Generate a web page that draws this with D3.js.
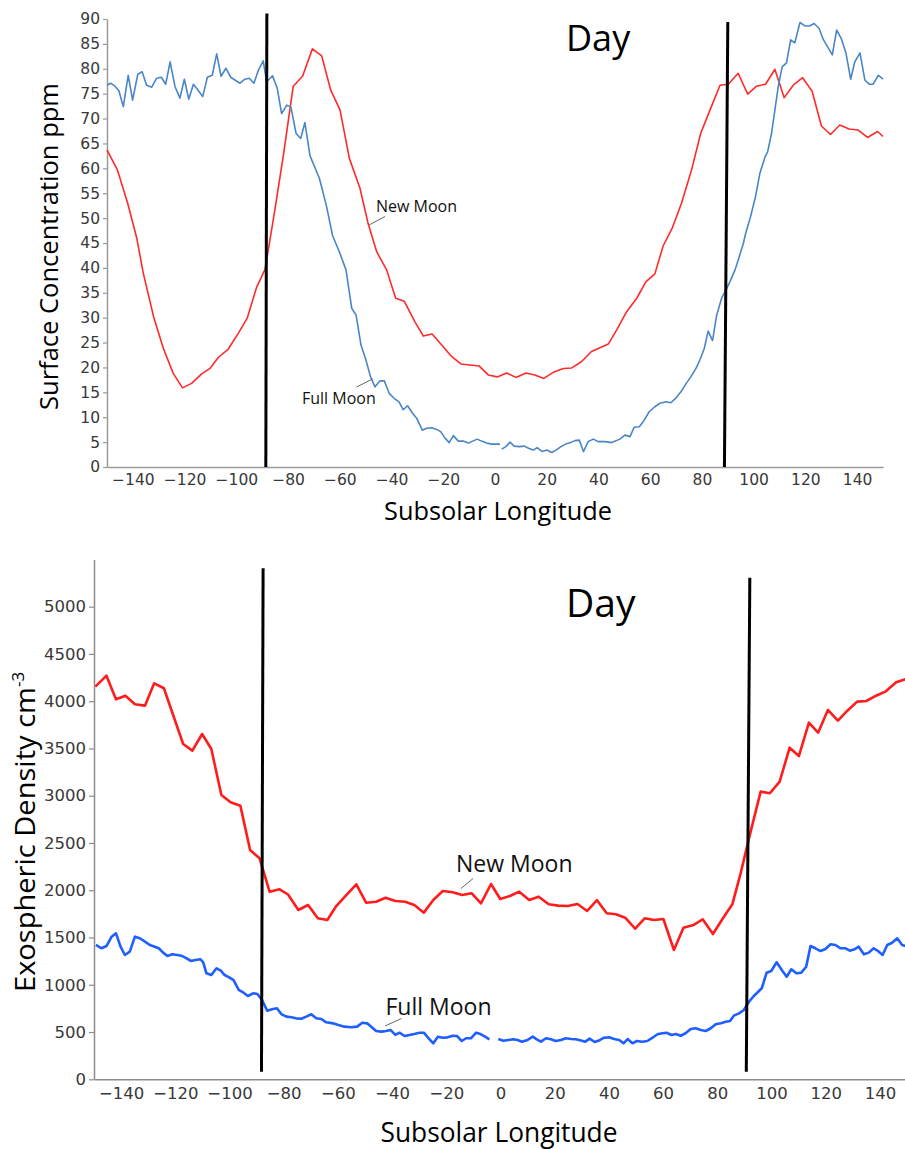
<!DOCTYPE html>
<html>
<head>
<meta charset="utf-8">
<script src="https://cdn.jsdelivr.net/npm/d3@7"></script>
<style>
  html, body { margin: 0; padding: 0; background: #fff; }
  svg { display: block; }
</style>
</head>
<body>
<svg id="chart" width="905" height="1149"></svg>
<script>
// ---------------- DATA ----------------
const xTicks = [-140, -120, -100, -80, -60, -40, -20, 0, 20, 40, 60, 80, 100, 120, 140];
const topYTicks = [0, 5, 10, 15, 20, 25, 30, 35, 40, 45, 50, 55, 60, 65, 70, 75, 80, 85, 90];
const botYTicks = [0, 500, 1000, 1500, 2000, 2500, 3000, 3500, 4000, 4500, 5000];

// Top panel: surface concentration (ppm)
const topNewLon = [-150,-146,-142,-138.5,-136,-132,-128.2,-124.4,-120.8,-117.3,-113.4,-110.2,-107,-103.1,-99.2,-95.8,-92.1,-88.9,-85.3,-81.7,-78,-74.4,-70.6,-67,-63.5,-59.9,-56.3,-52.2,-49,-45.7,-41.9,-38.4,-35.1,-31,-27.7,-24.3,-20.6,-16.8,-13.2,-9.7,-6.2,-2.6,0.9,4.5,8.1,12,15.4,18.9,22.8,26.4,29.7,33.5,37.3,43.8,47,50.9,54.8,58.3,61.8,65,68.6,72.1,76,79.5,83.1,87,90.2,94,97.7,101.1,104.6,108.2,111.8,115.3,118.9,122.6,126.2,129.7,133.3,136.9,140.4,144,147.9,150];
const topNewVal = [63.7,59.7,53,46,39,30.2,23.8,18.8,15.9,16.8,18.7,19.8,22,23.7,26.9,29.9,36.2,39.7,51,63,76.5,78.5,84,82.6,75.7,71.7,62,56,48.8,43.2,39.6,33.9,33.3,29.2,26.3,26.7,24.5,22.2,20.7,20.5,20.3,18.5,18.1,18.9,18,18.9,18.5,17.8,19.1,19.8,19.9,21.2,23.2,24.7,27.5,31.2,33.9,37.2,38.8,44.4,48.1,53,59.7,67,71.7,76.7,76.9,79.1,74.9,76.5,76.9,79.9,74.2,76.7,78.2,75.5,68.5,66.8,68.7,67.9,67.7,66.2,67.4,66.4];

const topFullLon = [-150,-148.6,-146.9,-145.4,-143.7,-141.8,-140.1,-138.1,-136.4,-134.7,-132.7,-130.8,-129,-127.3,-125.6,-123.7,-121.8,-120.1,-118.4,-116.6,-114.8,-113,-111.2,-109.3,-107.6,-105.9,-104,-102.2,-100.4,-98.6,-96.7,-95,-93.2,-91.4,-89.6,-88.3,-86,-84.2,-82.5,-80.5,-78.9,-76.9,-75.1,-73.5,-71.5,-67.9,-65.1,-62.8,-60,-57.6,-55.4,-53.7,-51.8,-49.9,-48.1,-46.4,-44.5,-42.8,-40.9,-39,-37.1,-35.5,-33.8,-32,-30.3,-28.1,-26.4,-24.5,-22.8,-21,-19.3,-17.7,-16.1,-14.2,-12.3,-10.3,-8.6,-6.9,-5.2,-3.2,-1.3,1.9,2.25,2.6,4.2,5.8,7.4,9.4,11.3,13.2,14.8,16.3,18.3,20,21.9,23.6,25.5,27.3,29.2,30.9,32.6,34.2,36,38,39.9,42.5,45.1,48.3,50.2,52.2,53.8,55.8,57.7,59.6,61.8,63.8,66.1,68,70,71.9,73.8,75.7,77.7,79.2,80.9,82.4,84.1,85.7,87.6,89.3,90.8,92.8,94.4,96,96.9,98.8,100.7,102.4,104.4,105.4,106.9,108.2,109.5,111,112.7,114.3,115.9,117.9,119.8,121.5,123.4,125.3,126.9,128.6,130.4,132.1,134,135.7,137.5,139.1,141.1,143,144.7,146.2,148.2,150];
const topFullVal = [76.7,77.1,76.5,75.6,72.4,78.7,73.7,78.9,79.4,76.7,76.3,78.1,78.3,76.9,81.4,76.4,74.1,77.9,73.9,76.9,75.7,74.4,78.3,78.7,83,78.5,80.1,78.3,77.7,77.1,77.9,78.1,77.1,79.8,81.6,77.4,78.6,76.1,71,72.7,72.3,67,66,69.2,62.5,58,52.3,46.5,43,39.6,31.9,30.5,24.5,21.5,18.1,16.1,17.3,17.3,14.8,13.8,13.1,11.5,12.3,10.9,9.8,7.4,7.8,7.9,7.6,7.1,5.8,4.9,6.3,5.2,5.2,4.8,5.2,5.6,5.2,4.8,4.6,4.6,null,3.6,4.1,5,4.2,4.1,4.2,3.7,3.4,3.9,3.1,3.4,2.9,3.4,4.1,4.6,4.9,5.3,5.4,3.1,5.1,5.6,5.1,5.1,4.9,5.6,6.4,6.1,8,8.1,9.4,11.1,12.1,12.8,13.1,12.9,13.9,15.1,16.7,18.1,19.8,21.5,23.8,27.3,25.4,30.5,33.9,35.6,37.2,39.6,42.2,44.9,46.9,50.3,54.3,59,62.3,63.3,67,71.7,76.4,80.4,81.2,85.8,85.2,89.3,88.6,88.6,89.1,88.1,85.9,84.4,82.8,87.8,85.9,83.1,77.9,81.4,83.2,77.7,76.9,76.9,78.7,77.9];

// terminator lines (lon at bottom, lon at top, value at top)
const topTermLon0 = [-88.6, 88.7];
const topTermLon1 = [-88.2, 90.0];
const topTermTop = [91.1, 89.4];

// Bottom panel: exospheric density (cm^-3)
const botNewLon = [-149.5,-145.4,-141.9,-138.4,-134.9,-131.2,-127.8,-124.2,-120.8,-117.1,-113.7,-110.1,-106.7,-103,-99.6,-96,-92.4,-88.9,-85.2,-81.5,-78.4,-74.6,-71,-67.4,-63.9,-60.6,-56.9,-53.2,-49.6,-45.9,-42.4,-38.8,-35.2,-31.8,-28.3,-24.8,-21.3,-17.6,-14.2,-10.6,-7.2,-3.5,-0.1,3.5,6.9,10.6,14.1,17.8,21.3,24.8,28.4,32,35.6,39.2,42.6,46,49.7,53.2,56.7,60.1,64,67.5,71.2,74.6,78.4,81.9,85.6,88.6,92.3,96,99.4,103,106.7,110.1,113.8,117.2,120.8,124.5,127.9,131.6,135,138.6,142,146,149.4];
const botNewVal = [4154,4270,4020,4058,3967,3953,4189,4137,3854,3547,3477,3653,3494,3008,2930,2895,2426,2338,1985,2010,1955,1791,1844,1703,1685,1833,1948,2063,1868,1879,1921,1886,1879,1844,1763,1897,1992,1978,1950,1968,1862,2066,1907,1939,1985,1897,1932,1851,1837,1833,1855,1781,1895,1756,1746,1710,1593,1703,1685,1696,1368,1604,1632,1693,1537,1696,1855,2179,2620,3043,3026,3149,3508,3420,3773,3667,3907,3794,3897,3995,4002,4058,4101,4200,4232];

const botFullLon = [-149.3,-147.2,-145.4,-143.5,-141.9,-140.2,-138.6,-136.8,-134.9,-133.1,-131.2,-129.4,-127.6,-126.1,-124.5,-122.9,-121.1,-119.2,-117.4,-115.8,-114.3,-112.5,-110.7,-109.7,-108.5,-106.7,-104.8,-103.2,-101.8,-100.1,-98.5,-96.6,-94.8,-93.2,-91.3,-89.7,-88,-86.1,-84.3,-82.5,-80.9,-79,-77.2,-75.4,-73.5,-71.7,-69.8,-68,-66.1,-64.3,-61.8,-59.8,-57.6,-55.1,-52.9,-51,-49.2,-47.5,-45.9,-44,-42.2,-40.6,-38.8,-37.3,-35.4,-33.6,-31.8,-29.9,-28.3,-26.5,-24.8,-23.1,-21.3,-19.5,-17.6,-16,-14.3,-12.7,-10.9,-9,-7.4,-5.7,-4.1,-2.5,-0.8,1,2.9,4.7,6.3,7.9,10,11.9,13.4,14.9,16.8,18.6,20.4,22.3,24.1,26,27.8,29.7,31.3,32.9,34.7,36.6,38.2,40.1,41.9,43.8,45.4,46.9,48.7,50.3,52.4,54.2,56.1,57.9,59.8,61.3,63.1,64.7,66.5,68.3,70.2,72,73.9,75.7,77.6,79.4,81.3,83.1,84.7,86.1,88,89.8,91.7,93.5,96.4,98.2,99.9,101.9,103.8,105.6,107.3,109.2,111,112.8,114.4,116.2,118.1,119.9,121.8,123.6,125.5,127.3,128.9,130.6,132.2,134.1,135.9,137.7,139.3,141,142.7,144.5,146.4,148.2,149.4];
const botFullVal = [1421,1386,1410,1509,1545,1403,1315,1350,1509,1492,1456,1421,1403,1386,1340,1304,1322,1315,1304,1280,1252,1262,1270,1238,1121,1103,1174,1149,1103,1079,1050,945,916,881,910,902,839,726,741,751,690,663,656,645,641,663,688,645,638,603,592,574,557,550,557,599,592,550,511,504,511,522,469,493,458,469,479,493,493,434,381,451,440,444,461,458,405,434,434,493,479,451,423,null,426,408,416,423,416,398,416,451,423,398,434,423,405,416,434,426,423,410,398,430,395,414,440,444,426,416,381,426,381,405,398,405,440,476,487,493,469,479,461,487,532,540,522,511,540,582,592,609,617,673,698,733,821,881,963,1128,1146,1238,1156,1085,1164,1121,1128,1191,1410,1386,1357,1379,1428,1421,1386,1386,1361,1375,1403,1322,1340,1386,1357,1315,1421,1445,1492,1421,1410];

const botTermLon0 = [-88.2, 90.7];
const botTermLon1 = [-87.6, 92.0];
const botTermBottom = [80, 80];
const botTermTop = [5406, 5307];

// ---------------- DRAW ----------------
const svg = d3.select("#chart");
const tickFont = "'DejaVu Sans', sans-serif";
const titleFont = "'Open Sans', sans-serif";
const fmt = d3.format("d");

function zip(lons, vals) { return lons.map((l, i) => [l, vals[i]]); }

function panel(cfg) {
  const x = d3.scaleLinear().domain([-150, 150]).range(cfg.xRange);
  const y = d3.scaleLinear().domain(cfg.yDomain).range(cfg.yRange);
  const g = svg.append("g");

  // y axis
  const yAxis = d3.axisLeft(y).tickValues(cfg.yTicks).tickFormat(fmt).tickSize(cfg.yTickSize).tickSizeOuter(0).tickPadding(3);
  const ya = g.append("g").attr("transform", `translate(${cfg.xRange[0]},0)`).call(yAxis);
  ya.select(".domain").attr("stroke", cfg.axisColor).attr("stroke-width", 1.5);
  ya.selectAll(".tick line").attr("stroke", cfg.axisColor).attr("stroke-width", 1.2);
  ya.selectAll(".tick text").attr("font-family", tickFont).attr("font-size", cfg.tickSize).attr("fill", "#383838");

  // x axis
  const xAxis = d3.axisBottom(x).tickValues(xTicks).tickFormat(fmt).tickSize(cfg.xTickSize).tickSizeOuter(0).tickPadding(cfg.xPad);
  const xa = g.append("g").attr("transform", `translate(0,${cfg.yRange[0]})`).call(xAxis);
  xa.select(".domain").attr("stroke", cfg.axisColor).attr("stroke-width", 1.5);
  xa.selectAll(".tick line").attr("stroke", cfg.axisColor).attr("stroke-width", 1.2);
  xa.selectAll(".tick text").attr("font-family", tickFont).attr("font-size", cfg.tickSize).attr("fill", "#383838");

  const line = d3.line().defined(d => d[1] != null).x(d => x(d[0])).y(d => y(d[1]));

  // series
  cfg.series.forEach(s => {
    g.append("path").datum(zip(s.lon, s.val))
      .attr("fill", "none").attr("stroke", s.color).attr("stroke-width", s.width)
      .attr("stroke-linejoin", "round").attr("d", line);
  });

  // terminator lines
  cfg.term.lon0.forEach((l0, i) => {
    g.append("line")
      .attr("x1", x(l0)).attr("y1", y(cfg.term.bottom[i]))
      .attr("x2", x(cfg.term.lon1[i])).attr("y2", y(cfg.term.top[i]))
      .attr("stroke", "#000").attr("stroke-width", 3);
  });

  // annotations
  cfg.labels.forEach(a => {
    g.append("line").attr("x1", a.lx1).attr("y1", a.ly1).attr("x2", a.lx2).attr("y2", a.ly2)
      .attr("stroke", "#666").attr("stroke-width", 1);
    g.append("text").attr("x", a.tx).attr("y", a.ty).text(a.text)
      .attr("font-family", titleFont).attr("font-size", a.size).attr("fill", "#111");
  });

  // "Day"
  g.append("text").attr("x", cfg.day.x).attr("y", cfg.day.y).text("Day")
    .attr("font-family", titleFont).attr("font-size", cfg.day.size).attr("fill", "#000");

  // x title
  g.append("text").attr("x", cfg.xTitle.x).attr("y", cfg.xTitle.y).attr("text-anchor", "middle")
    .attr("font-family", titleFont).attr("font-size", cfg.xTitle.size).attr("fill", "#000")
    .attr("textLength", cfg.xTitle.len).attr("lengthAdjust", "spacingAndGlyphs")
    .text("Subsolar Longitude");

  return { g, x, y };
}

// Top panel
const topP = panel({
  xRange: [107, 883], yDomain: [0, 90], yRange: [467, 19],
  yTicks: topYTicks, yTickSize: 4, xTickSize: 0, xPad: 7, tickSize: 15.5, axisColor: "#9a9a9a",
  series: [
    { lon: topNewLon, val: topNewVal, color: "#ff2a2a", width: 1.6 },
    { lon: topFullLon, val: topFullVal, color: "#4a86c6", width: 1.6 }
  ],
  term: { lon0: topTermLon0, lon1: topTermLon1, bottom: [0, 0], top: topTermTop },
  labels: [
    { text: "New Moon", tx: 376, ty: 212, size: 16, lx1: 385, ly1: 216.5, lx2: 369, ly2: 225 },
    { text: "Full Moon", tx: 302, ty: 404, size: 16, lx1: 356.5, ly1: 387, lx2: 372.5, ly2: 379 }
  ],
  day: { x: 566, y: 51, size: 36 },
  xTitle: { x: 498, y: 520, size: 25, len: 228 }
});
svg.append("text")
  .attr("transform", "translate(58,246.5) rotate(-90)")
  .attr("text-anchor", "middle")
  .attr("font-family", titleFont).attr("font-size", 26).attr("fill", "#000")
  .attr("textLength", 327).attr("lengthAdjust", "spacingAndGlyphs")
  .text("Surface Concentration ppm");

// Bottom panel
const botP = panel({
  xRange: [94, 907], yDomain: [0, 5500], yRange: [1079.3, 559.4],
  yTicks: botYTicks, yTickSize: 5, xTickSize: 0, xPad: 8, tickSize: 16.5, axisColor: "#8c8c8c",
  series: [
    { lon: botNewLon, val: botNewVal, color: "#ff1c1c", width: 2.6 },
    { lon: botFullLon, val: botFullVal, color: "#1f5eff", width: 2.6 }
  ],
  term: { lon0: botTermLon0, lon1: botTermLon1, bottom: botTermBottom, top: botTermTop },
  labels: [
    { text: "New Moon", tx: 456, ty: 871.5, size: 23, lx1: 473, ly1: 878.5, lx2: 461, ly2: 888.5 },
    { text: "Full Moon", tx: 385.5, ty: 1015, size: 23, lx1: 401.5, ly1: 1018.5, lx2: 385, ly2: 1026 }
  ],
  day: { x: 566, y: 617, size: 39 },
  xTitle: { x: 499, y: 1141.5, size: 28, len: 237 }
});
const yt = svg.append("text")
  .attr("transform", "translate(35,992) rotate(-90)")
  .attr("text-anchor", "start")
  .attr("font-family", titleFont).attr("font-size", 28).attr("fill", "#000")
  .attr("textLength", 305).attr("lengthAdjust", "spacingAndGlyphs");
yt.append("tspan").text("Exospheric Density cm");
const ytSup = svg.append("text")
  .attr("transform", "translate(24,687) rotate(-90)")
  .attr("text-anchor", "start")
  .attr("font-family", titleFont).attr("font-size", 17).attr("fill", "#000")
  .text("-3");
</script>
</body>
</html>
